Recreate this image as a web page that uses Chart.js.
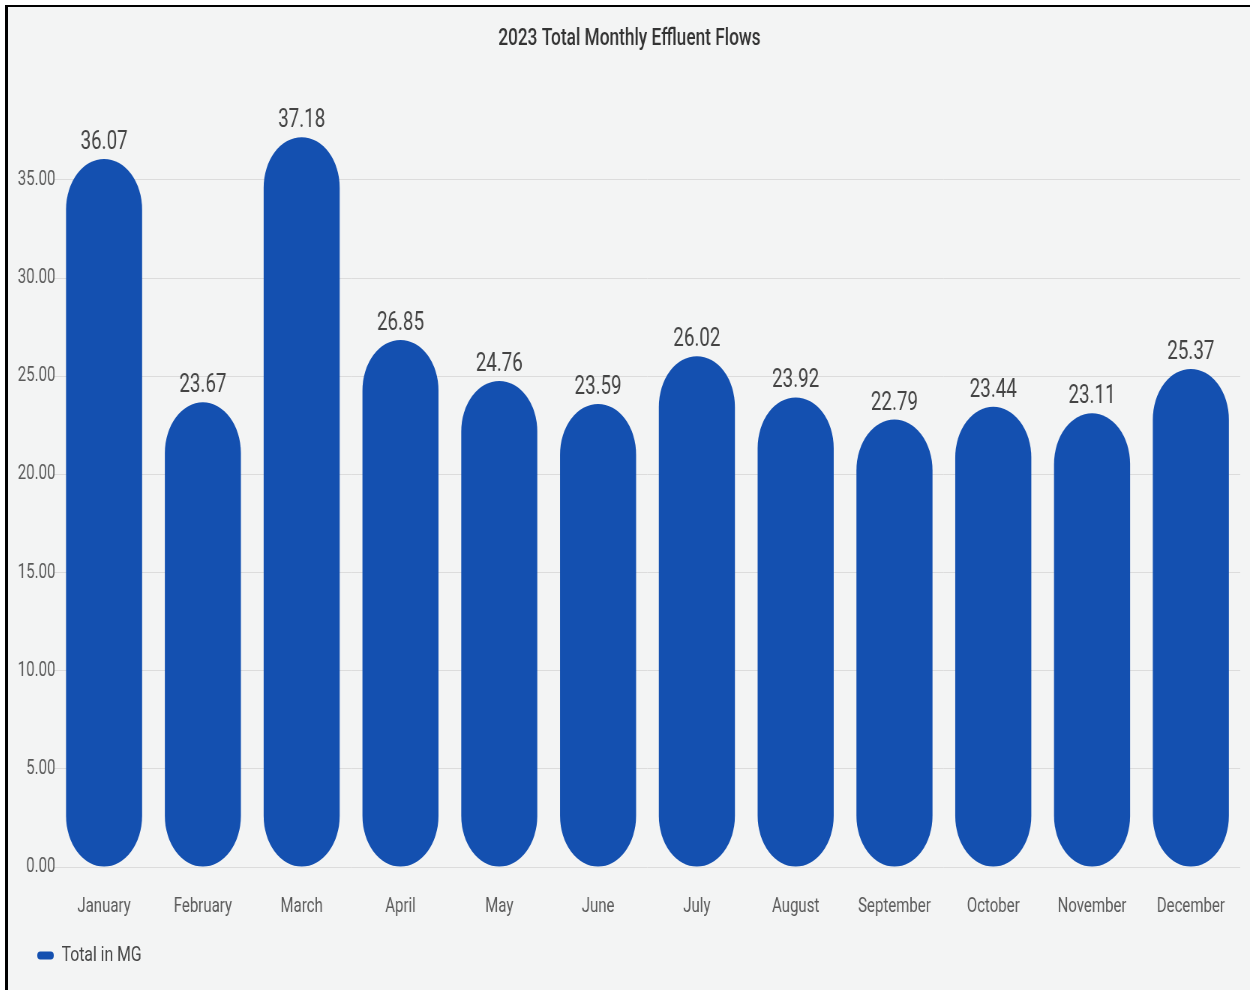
<!DOCTYPE html>
<html>
<head>
<meta charset="utf-8">
<title>2023 Total Monthly Effluent Flows</title>
<script src="https://cdn.jsdelivr.net/npm/chart.js@4"></script>
<style>
  html, body { margin: 0; padding: 0; background: #fff; overflow: hidden; }
  #page {
    position: absolute; left: 5px; top: 5px; width: 1245px; height: 985px;
    border-left: 3px solid #000; border-top: 2px solid #000;
    background: #f3f4f4;
  }
  /* the chart is laid out wide and then narrowed, as in the dashboard export */
  #frame {
    position: absolute; left: 0; top: 0;
    width: 1656px; height: 983px;
    transform: scaleX(0.75); transform-origin: 0 0;
  }
</style>
</head>
<body>
<div id="page">
  <div id="frame"><canvas id="flows"></canvas></div>
</div>
<script>
// =================== DATA ===================
const months = ["January", "February", "March", "April", "May", "June",
  "July", "August", "September", "October", "November", "December"];
const totals = [36.07, 23.67, 37.18, 26.85, 24.76, 23.59, 26.02, 23.92, 22.79, 23.44, 23.11, 25.37];
const yMax = 39.5;
const yStep = 5;

const barBlue = "#1450b0";
const textGrey = "#5a5a5a";

// value printed above each pill
const valueLabels = {
  id: "valueLabels",
  afterDatasetsDraw(chart) {
    const { ctx } = chart;
    const meta = chart.getDatasetMeta(0);
    ctx.save();
    ctx.font = "25px Roboto";
    ctx.fillStyle = "#444";
    ctx.textAlign = "center";
    ctx.textBaseline = "alphabetic";
    meta.data.forEach((bar, i) => {
      ctx.fillText(totals[i].toFixed(2), bar.x, bar.y - 10);
    });
    ctx.restore();
  },
};

// legend sits a little in from the left edge and closer to the month labels
const legendNudge = {
  id: "legendNudge",
  afterLayout(chart) {
    chart.legend.left += 15;
    chart.legend.top -= 12;
  },
};

new Chart(document.getElementById("flows"), {
  type: "bar",
  data: {
    labels: months,
    datasets: [
      {
        label: "Total in MG",
        data: totals,
        backgroundColor: barBlue,
        borderRadius: 80,
        borderSkipped: false,
        barPercentage: 0.77,
        categoryPercentage: 1.0,
      },
    ],
  },
  options: {
    responsive: true,
    maintainAspectRatio: false,
    animation: false,
    layout: { padding: { left: 14, right: 13, top: 0, bottom: 2 } },
    plugins: {
      title: {
        display: true,
        text: "2023 Total Monthly Effluent Flows",
        color: "#333",
        font: { family: "Roboto", size: 23, weight: "500" },
        padding: { top: 18, bottom: 39 },
      },
      legend: {
        position: "bottom",
        align: "start",
        labels: {
          color: "#444",
          font: { family: "Roboto", size: 21 },
          boxWidth: 22,
          boxHeight: 8,
          useBorderRadius: true,
          borderRadius: 4,
          padding: 10,
        },
      },
      tooltip: { enabled: false },
    },
    scales: {
      x: {
        grid: { display: false, drawTicks: false },
        border: { display: false },
        ticks: {
          color: textGrey,
          font: { family: "Roboto", size: 20 },
          padding: 28,
          maxRotation: 0,
          autoSkip: false,
        },
      },
      y: {
        min: 0,
        max: yMax,
        grid: { color: "#dcdcdc", drawTicks: false },
        border: { display: false },
        ticks: {
          stepSize: yStep,
          includeBounds: false,
          color: textGrey,
          font: { family: "Roboto", size: 20 },
          padding: -1,
          callback: (v) => v.toFixed(2),
        },
      },
    },
  },
  plugins: [valueLabels, legendNudge],
});
</script>
</body>
</html>
